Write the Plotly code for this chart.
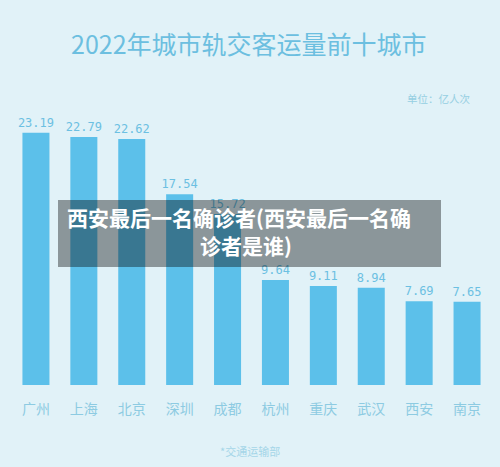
import plotly.graph_objects as go

# 2022 urban rail ridership, top 10 cities (unit: 100 million trips)
cities = ["广州", "上海", "北京", "深圳", "成都", "杭州", "重庆", "武汉", "西安", "南京"]
ridership = [23.19, 22.79, 22.62, 17.54, 15.72, 9.64, 9.11, 8.94, 7.69, 7.65]
value_labels = ["23.19", "22.79", "22.62", "17.54", "15.72", "9.64", "9.11", "8.94", "7.69", "7.65"]

title_text = "2022年城市轨交客运量前十城市"
unit_text = "单位：亿人次"
source_text = "*交通运输部"
overlay_line1 = "西安最后一名确诊者(西安最后一名确"
overlay_line2 = "诊者是谁)"

CJK = "Noto Sans CJK SC"
BG = "#e1f2f8"
BAR = "#5cc0ea"
W, H = 500, 467
ML, MR, MT, MB = 12, 9, 113, 82

fig = go.Figure()
fig.add_trace(go.Bar(
    x=cities,
    y=ridership,
    marker=dict(color=BAR, line=dict(width=0)),
    text=value_labels,
    textposition="outside",
    constraintext="none",
    cliponaxis=False,
    textfont=dict(family="DejaVu Sans Mono", size=12, color="#6cc0e2"),
    hoverinfo="skip",
))

fig.update_layout(
    width=W, height=H,
    margin=dict(l=ML, r=MR, t=MT, b=MB),
    paper_bgcolor=BG, plot_bgcolor=BG,
    bargap=0.436,
    showlegend=False,
    font=dict(family=CJK),
)
fig.update_xaxes(
    range=[-0.5, 9.5], showgrid=False, zeroline=False, showline=False,
    ticks="", ticklabelstandoff=14,
    tickfont=dict(family=CJK, size=14, color="#8dcbe2"),
)
fig.update_yaxes(range=[0, 25], visible=False, showgrid=False, zeroline=False)


# "paper" refs are the plot area; convert from figure pixel coords
def px_x(p):
    return (p - ML) / (W - ML - MR)


def px_y(p):
    return (H - MB - p) / (H - MT - MB)


def label(text, x, y, size, color, anchor="center"):
    fig.add_annotation(text=text, x=px_x(x), y=px_y(y), xref="paper", yref="paper",
                       xanchor=anchor, yanchor="middle", showarrow=False,
                       font=dict(family=CJK, size=size, color=color))


# title, unit and source
label(title_text, 249, 43, 25, "#6cbfe0")
label(unit_text, 473, 99, 10.5, "#96cfe2", anchor="right")
label(source_text, 250, 451, 11, "#a5d6e8")

# semi-transparent overlay banner
fig.add_shape(type="rect", xref="paper", yref="paper",
              x0=px_x(58), x1=px_x(441), y0=px_y(267), y1=px_y(200),
              fillcolor="rgba(0,0,0,0.38)", line=dict(width=0), layer="above")
label("<b>" + overlay_line1 + "</b>", 239, 217, 21, "white")
label("<b>" + overlay_line2 + "</b>", 246, 245, 21, "white")

fig.write_html("out.html", config={"displayModeBar": False},
               post_script="document.body.style.margin='0';")
